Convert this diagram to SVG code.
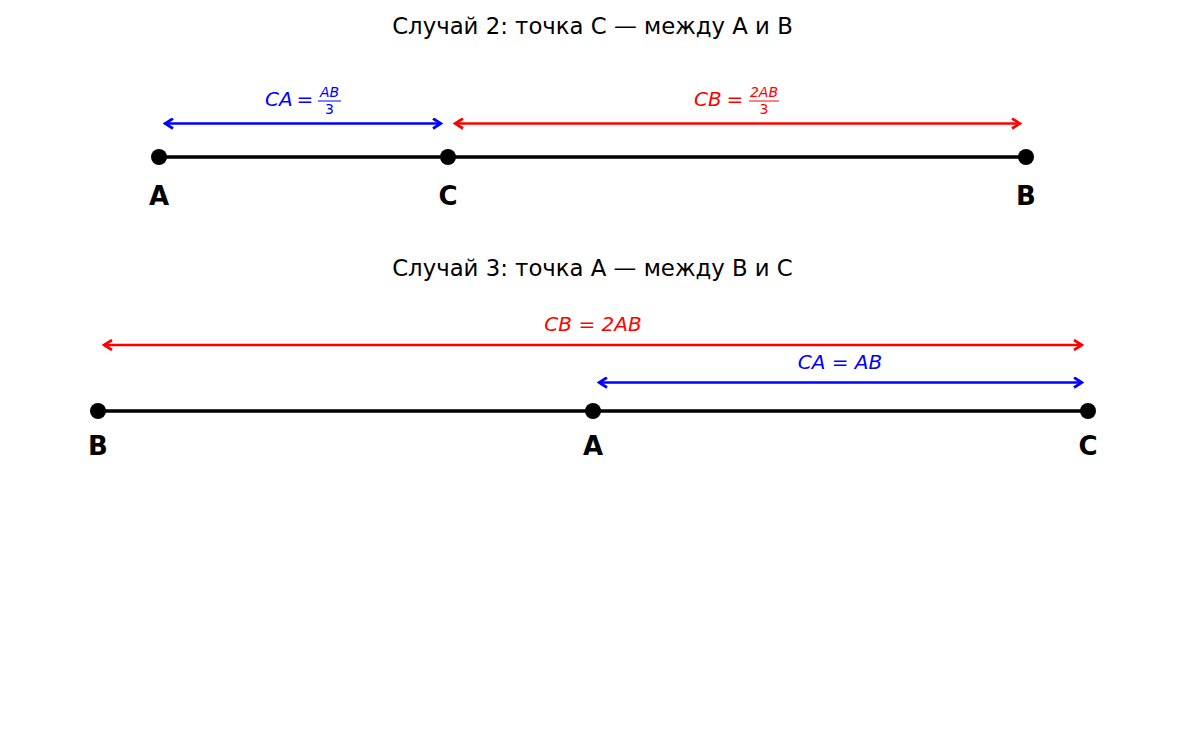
<svg xmlns="http://www.w3.org/2000/svg" width="1185" height="735" viewBox="0 0 1185 735">
<defs>
<style>
.title{font-family:"DejaVu Sans",sans-serif;font-size:22.8px;fill:#000;text-anchor:middle}
.pt{font-family:"DejaVu Sans",sans-serif;font-size:26px;font-weight:bold;fill:#000;text-anchor:middle}
.math{font-family:"DejaVu Sans",sans-serif;font-size:20px;font-style:italic}
.up{font-style:normal}
.small{font-size:14px}
.seg{stroke:#000;stroke-width:3.5;fill:none}
.dot{fill:#000}
.blue{stroke:#0000ff;stroke-width:2.7;fill:none}
.red{stroke:#ff0000;stroke-width:2.7;fill:none}
</style>
<marker id="hb" viewBox="-10 -6 12 12" markerWidth="12" markerHeight="12" markerUnits="userSpaceOnUse" refX="0" refY="0" orient="auto-start-reverse">
<path d="M-8,-5 L0,0 L-8,5" fill="none" stroke="#0000ff" stroke-width="2.7"/>
</marker>
<marker id="hr" viewBox="-10 -6 12 12" markerWidth="12" markerHeight="12" markerUnits="userSpaceOnUse" refX="0" refY="0" orient="auto-start-reverse">
<path d="M-8,-5 L0,0 L-8,5" fill="none" stroke="#ff0000" stroke-width="2.7"/>
</marker>
</defs>
<rect width="1185" height="735" fill="#fff"/>

<text class="title" x="592.5" y="33.5">Случай 2: точка C — между A и B</text>
<text class="title" x="592.5" y="275.5">Случай 3: точка A — между B и C</text>

<g id="connectors">
<line class="seg" x1="159" y1="157" x2="1026" y2="157"/>
<line class="blue" x1="165" y1="123.5" x2="441" y2="123.5" marker-start="url(#hb)" marker-end="url(#hb)"/>
<line class="red" x1="455" y1="123.5" x2="1020" y2="123.5" marker-start="url(#hr)" marker-end="url(#hr)"/>
<line class="seg" x1="98" y1="411" x2="1088" y2="411"/>
<line class="red" x1="104" y1="345" x2="1082" y2="345" marker-start="url(#hr)" marker-end="url(#hr)"/>
<line class="blue" x1="599" y1="382.5" x2="1082" y2="382.5" marker-start="url(#hb)" marker-end="url(#hb)"/>
</g>

<g id="labels">
<g id="label-ca2" fill="#0000ff">
<text class="math" x="265" y="106">CA</text>
<text class="math up" x="305" y="106" text-anchor="middle">=</text>
<text class="math small" x="329.5" y="97" text-anchor="middle">AB</text>
<line x1="318" y1="101" x2="341" y2="101" stroke="#0000ff" stroke-width="1"/>
<text class="math small up" x="329.5" y="113.5" text-anchor="middle">3</text>
</g>
<g id="label-cb2" fill="#ff0000">
<text class="math" x="694" y="106">CB</text>
<text class="math up" x="735" y="106" text-anchor="middle">=</text>
<text class="math small" x="764" y="97" text-anchor="middle">2AB</text>
<line x1="749" y1="101" x2="779" y2="101" stroke="#ff0000" stroke-width="1"/>
<text class="math small up" x="764" y="113.5" text-anchor="middle">3</text>
</g>
<text id="label-cb3" class="math" fill="#ff0000" x="593" y="331" text-anchor="middle">CB<tspan class="up"> = </tspan>2AB</text>
<text id="label-ca3" class="math" fill="#0000ff" x="840" y="369" text-anchor="middle">CA<tspan class="up"> = </tspan>AB</text>
</g>

<g id="node-A2"><circle class="dot" cx="159" cy="157" r="8"/><text class="pt" x="159" y="204.5">A</text></g>
<g id="node-C2"><circle class="dot" cx="448" cy="157" r="8"/><text class="pt" x="448" y="204.5">C</text></g>
<g id="node-B2"><circle class="dot" cx="1026" cy="157" r="8"/><text class="pt" x="1026" y="204.5">B</text></g>

<g id="node-B3"><circle class="dot" cx="98" cy="411" r="8"/><text class="pt" x="98" y="454.5">B</text></g>
<g id="node-A3"><circle class="dot" cx="593" cy="411" r="8"/><text class="pt" x="593" y="454.5">A</text></g>
<g id="node-C3"><circle class="dot" cx="1088" cy="411" r="8"/><text class="pt" x="1088" y="454.5">C</text></g>
</svg>
